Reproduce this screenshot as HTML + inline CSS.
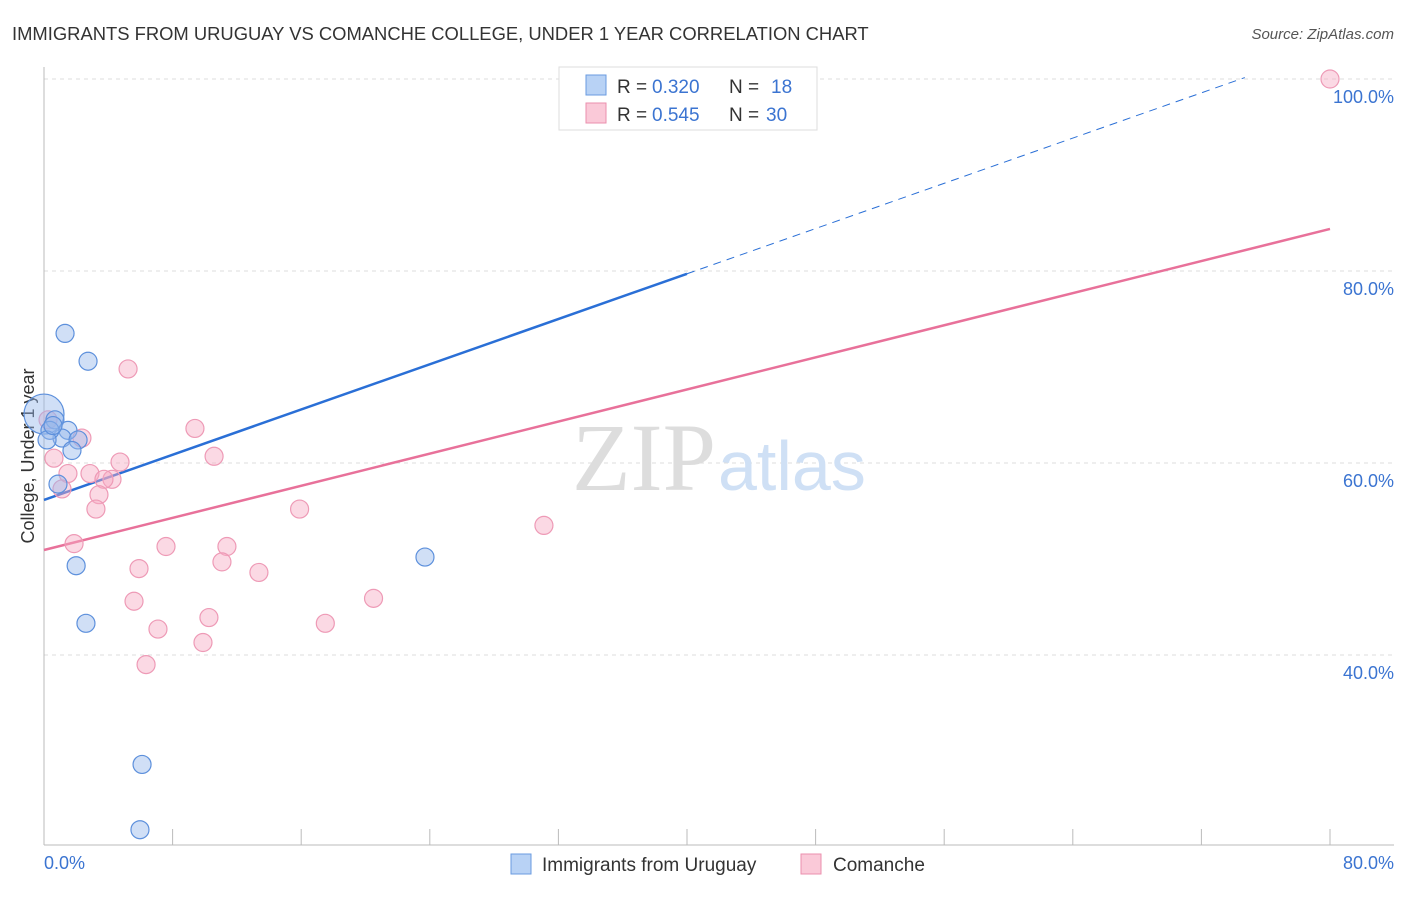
<!DOCTYPE html>
<html><head><meta charset="utf-8"><style>
body{margin:0;background:#fff;font-family:"Liberation Sans",sans-serif}
</style></head><body>
<svg width="1406" height="892" viewBox="0 0 1406 892" xmlns="http://www.w3.org/2000/svg">
<text x="12" y="40" font-size="18.4" fill="#333">IMMIGRANTS FROM URUGUAY VS COMANCHE COLLEGE, UNDER 1 YEAR CORRELATION CHART</text>
<text x="1394" y="39" font-size="15" fill="#555" font-style="italic" text-anchor="end">Source: ZipAtlas.com</text>
<g id="grid"></g>
<text x="716" y="490" font-size="96" fill="#ddd" text-anchor="end" font-family="Liberation Serif,serif">ZIP</text>
<text x="718" y="490" font-size="70" fill="#cfe0f5">atlas</text>
<line x1="44" y1="67" x2="44" y2="845" stroke="#bbb"/>
<line x1="44" y1="845" x2="1394" y2="845" stroke="#bbb"/>
<g id="ticks"></g>
<g id="ylabels"></g>
<text x="44" y="869" font-size="18" fill="#3b74d1">0.0%</text>
<text x="1394" y="869" font-size="18" fill="#3b74d1" text-anchor="end">80.0%</text>
<text transform="translate(34,456) rotate(-90)" font-size="18" fill="#333" text-anchor="middle">College, Under 1 year</text>
<g id="lines"></g>
<g id="pts"></g>
<g>
<rect x="559" y="67" width="258" height="63" fill="#fff" stroke="#ddd"/>
<rect x="586" y="75" width="20" height="20" fill="#b8d2f5" stroke="#6a9be0"/>
<rect x="586" y="103" width="20" height="20" fill="#fac9d8" stroke="#eb8fae"/>
<text y="93" font-size="19" fill="#333"><tspan x="617">R =</tspan><tspan x="652" fill="#3b74d1">0.320</tspan><tspan x="729">N =</tspan><tspan x="771" fill="#3b74d1">18</tspan></text>
<text y="121" font-size="19" fill="#333"><tspan x="617">R =</tspan><tspan x="652" fill="#3b74d1">0.545</tspan><tspan x="729">N =</tspan><tspan x="766" fill="#3b74d1">30</tspan></text>
</g>
<g>
<rect x="511" y="854" width="20" height="20" fill="#b8d2f5" stroke="#6a9be0"/>
<text x="542" y="871" font-size="19" fill="#333">Immigrants from Uruguay</text>
<rect x="801" y="854" width="20" height="20" fill="#fac9d8" stroke="#eb8fae"/>
<text x="833" y="871" font-size="19" fill="#333">Comanche</text>
</g>
</svg>
<script>
const yTicks=[40,60,80,100];
const xTickVals=[0,8,16,24,32,40,48,56,64,72,80];
const blueX=[1.31,2.74,0,0.68,1.49,1.12,2.12,1.74,0.87,2.0,2.61,6.1,5.97,23.7,35.5,0.37,0.19,0.56];
const blueY=[73.5,70.6,65.1,64.5,63.4,62.6,62.4,61.3,57.8,49.3,43.3,28.6,21.8,50.2,100,63.4,62.4,63.9];
const blueR=[9,9,20,9,9,9,9,9,9,9,9,9,9,9,9,9,9,9];
const pinkX=[80,5.23,9.39,10.58,2.36,0.62,1.49,2.86,4.73,4.23,3.73,3.42,3.23,1.12,1.87,7.59,11.38,11.07,5.91,13.37,5.6,10.26,7.09,9.89,6.35,15.9,17.5,20.5,31.1,0.25];
const pinkY=[100,69.8,63.6,60.7,62.6,60.5,58.9,58.9,60.1,58.3,58.3,56.7,55.2,57.3,51.6,51.3,51.3,49.7,49.0,48.6,45.6,43.9,42.7,41.3,39.0,55.2,43.3,45.9,53.5,64.5];
const blueLine=[56.15,0.589];
const pinkLine=[50.94,0.418];
const sx=v=>44+v*16.075, sy=v=>79+(100-v)*9.6;
const NS="http://www.w3.org/2000/svg";
function mk(tag,attrs,parent){const e=document.createElementNS(NS,tag);for(const k in attrs)e.setAttribute(k,attrs[k]);document.getElementById(parent).appendChild(e);return e;}
yTicks.forEach(t=>{
 const l=mk('line',{x1:44,x2:1394,y1:sy(t),y2:sy(t),stroke:'#ddd','stroke-dasharray':'4,4'},'grid');
 
 
 const tx=mk('text',{x:1394,y:sy(t)+24,'font-size':18,fill:'#3b74d1','text-anchor':'end'},'ylabels');
 tx.textContent=t.toFixed(1)+'%';
 
 
});
xTickVals.forEach(t=>{
 const l=mk('line',{x1:sx(t),x2:sx(t),y1:829,y2:845,stroke:'#bbb'},'ticks');
 
 
});
function tl(c,x0,x1,col,dash,name){
 const l=mk('line',{x1:sx(x0),y1:sy(c[0]+c[1]*x0),x2:sx(x1),y2:sy(c[0]+c[1]*x1),stroke:col,'stroke-width':dash?1:2.5},'lines');
 if(dash)l.setAttribute('stroke-dasharray','8,6');
 
 
}
tl(blueLine,0,40,'#2a6fd6',false,'uruguay-trend-line');
tl(blueLine,40,74.7,'#2a6fd6',true,'uruguay-trend-extension');
tl(pinkLine,0,80,'#e8719a',false,'comanche-trend-line');
pinkX.forEach((v,i)=>{
 const c=mk('circle',{cx:sx(v),cy:sy(pinkY[i]),r:9,fill:'rgba(246,170,196,0.45)',stroke:'#ee9ab6','stroke-width':1.2},'pts');
 
 
});
blueX.forEach((v,i)=>{
 const c=mk('circle',{cx:sx(v),cy:sy(blueY[i]),r:blueR[i],fill:'rgba(150,185,235,0.45)',stroke:'#5d90dc','stroke-width':1.2},'pts');
 
 
});
</script>
</body></html>
